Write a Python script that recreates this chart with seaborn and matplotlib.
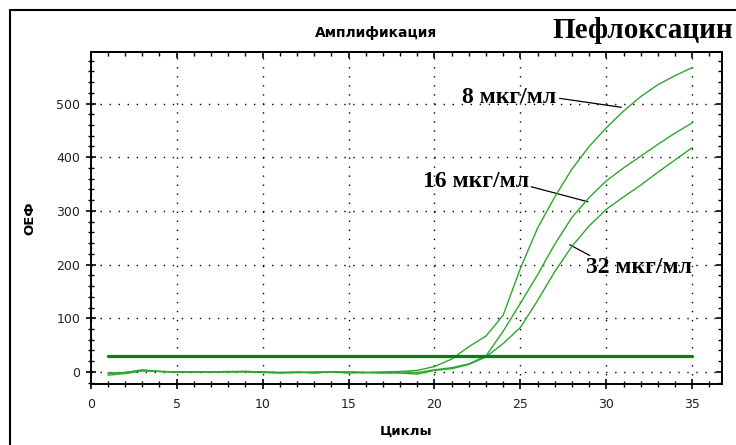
import numpy as np
import pandas as pd
import matplotlib
matplotlib.use("Agg")
import matplotlib.pyplot as plt
import seaborn as sns
from matplotlib.ticker import MultipleLocator
from matplotlib.patches import Rectangle

# ---------------- data ----------------
cycles = list(range(1, 36))
c8 = [-3, -1, 4, 1, 0, 0, 0, 1, 1, 0, -1, 0, -2, 0, 0, -1, 0, 1, 3,
      10, 24, 47, 67, 106, 193, 268, 326, 378, 420, 455, 486, 513, 535, 552, 567]
c16 = [-2, -1, 3, 1, 0, 0, 0, 0, 1, 0, -1, -1, 0, 0, 0, -1, -1, 0, -1,
       4, 8, 15, 30, 76, 128, 181, 238, 288, 325, 356, 380, 402, 424, 445, 464]
c32 = [-6, -3, 2, 1, 0, 0, 0, 0, 0, -1, -2, -1, -1, 0, -2, -1, -2, -2, -4,
       3, 6, 14, 28, 53, 83, 133, 187, 234, 272, 303, 326, 348, 372, 395, 418]
series_names = ["8 мкг/мл", "16 мкг/мл", "32 мкг/мл"]
threshold_x = [1, 35]
threshold_y = [29, 29]

title = "Амплификация"
drug = "Пефлоксацин"
xlabel = "Циклы"
ylabel = "ОЕФ"

# ---------------- style ----------------
sns.set_style("white")
plt.rcParams["font.family"] = ["DejaVu Sans"]
plt.rcParams["text.color"] = "black"
plt.rcParams["axes.labelcolor"] = "black"

green = "#2ea62e"
dark_green = "#0a7f0a"

fig = plt.figure(figsize=(7.36, 4.45), dpi=100)
ax = fig.add_axes([90.7 / 736, 1 - 384 / 445, (722 - 90.7) / 736, (384 - 52) / 445])

df = pd.DataFrame({
    "cycle": cycles * 3,
    "value": c8 + c16 + c32,
    "series": [series_names[0]] * len(cycles) + [series_names[1]] * len(cycles)
              + [series_names[2]] * len(cycles),
})
sns.lineplot(data=df, x="cycle", y="value", hue="series", palette=[green] * 3,
             linewidth=1.0, legend=False, ax=ax, zorder=3)
sns.lineplot(x=threshold_x, y=threshold_y, color=dark_green, linewidth=2.3, ax=ax, zorder=4)

ax.set_xlim(0, 36.73)
ax.set_ylim(-22.4, 596)
ax.xaxis.set_major_locator(MultipleLocator(5))
ax.xaxis.set_minor_locator(MultipleLocator(1))
ax.yaxis.set_major_locator(MultipleLocator(100))
ax.yaxis.set_minor_locator(MultipleLocator(20))

ax.grid(True, which="major", color="black", linestyle=(0, (1, 5.5)), linewidth=1.0)
ax.set_axisbelow(True)

for s in ax.spines.values():
    s.set_color("black")
    s.set_linewidth(1.4)
    s.set_visible(True)

ax.tick_params(axis="x", which="major", direction="inout", length=6.5, width=1.2,
               labelsize=9, pad=7, colors="black", labelcolor="#222222",
               bottom=True, top=False)
ax.tick_params(axis="x", which="minor", direction="inout", length=4, width=1.0,
               bottom=True, top=False, colors="black")
ax.tick_params(axis="y", which="major", direction="inout", length=7.2, width=1.2,
               labelsize=9, pad=4, colors="black", labelcolor="#222222",
               left=True, right=False)
ax.tick_params(axis="y", which="minor", direction="inout", length=5, width=1.0,
               left=True, right=False, colors="black")

secx = ax.secondary_xaxis("top")
secx.xaxis.set_major_locator(MultipleLocator(5))
secx.xaxis.set_minor_locator(MultipleLocator(1))
secx.tick_params(which="major", direction="in", length=4, width=1.2, labeltop=False,
                 top=True, colors="black")
secx.tick_params(which="minor", direction="in", length=3, width=1.0, top=True,
                 colors="black")
secx.spines["top"].set_linewidth(1.4)
secy = ax.secondary_yaxis("right")
secy.yaxis.set_major_locator(MultipleLocator(100))
secy.yaxis.set_minor_locator(MultipleLocator(20))
secy.tick_params(which="major", direction="in", length=4, width=1.2, labelright=False,
                 right=True, colors="black")
secy.tick_params(which="minor", direction="in", length=3, width=1.0, right=True,
                 colors="black")
secy.spines["right"].set_linewidth(1.4)

ax.set_xlabel(xlabel, fontsize=9.5, fontweight="bold", labelpad=10)
ax.set_ylabel(ylabel, fontsize=9.5, fontweight="bold", labelpad=14)

fig.text(376 / 736, 1 - 33 / 445, title, fontsize=10, fontweight="bold",
         ha="center", va="center")
fig.text(733 / 736, 1 - 31 / 445, drug, fontsize=21, fontweight="bold",
         family="Liberation Serif", ha="right", va="center")

# series labels with leader lines
lab_kw = dict(fontsize=17, fontweight="bold", family="Liberation Serif",
              ha="left", va="center")
ax.text(21.6, 512, series_names[0], **lab_kw)
ax.plot([27.28, 30.87], [509.7, 493], color="black", lw=0.9)
ax.text(19.33, 354, series_names[1], **lab_kw)
ax.plot([25.63, 28.93], [345, 317], color="black", lw=0.9)
ax.text(28.8, 195.5, series_names[2], **lab_kw)
ax.plot([27.87, 29.03], [237, 217], color="black", lw=0.9)

# outer frame
fig.patches.append(Rectangle((10 / 736, -0.05), 1.0, (1 - 10 / 445) + 0.05,
                             transform=fig.transFigure, fill=False,
                             edgecolor="black", linewidth=1.5))

fig.savefig("out.png", dpi=100)
